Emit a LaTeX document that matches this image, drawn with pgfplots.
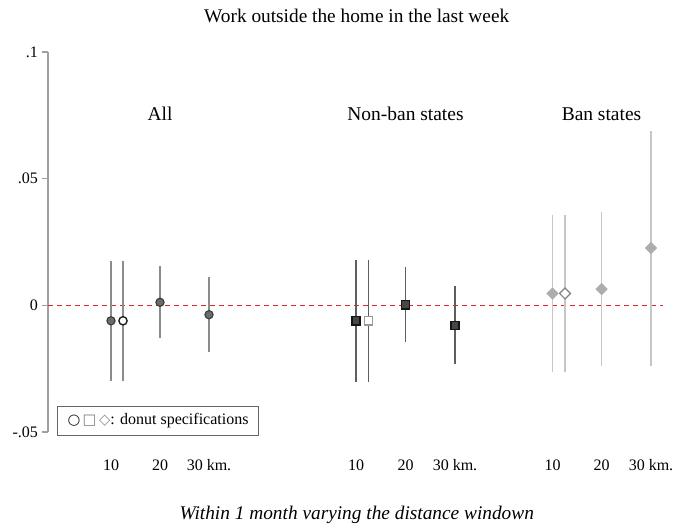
\documentclass[border=0pt]{standalone}
\usepackage{xcolor}
\usepackage{pgfplots}
\pgfplotsset{compat=1.18}
\usepackage{pgfplotstable}
\usepackage{fontspec}
\setmainfont{Liberation Serif}
\newfontfamily\symfont{DejaVu Sans}

\definecolor{allfill}{HTML}{6B6B6B}
\definecolor{alldraw}{HTML}{3A3A3A}
\definecolor{allci}{HTML}{8C8C8C}
\definecolor{nbfill}{HTML}{474747}
\definecolor{nbdraw}{HTML}{151515}
\definecolor{nbci}{HTML}{5E5E5E}
\definecolor{banfill}{HTML}{ADADAD}
\definecolor{banci}{HTML}{C6C6C6}
\definecolor{refred}{rgb}{0.91,0.14,0.16}
\definecolor{axisgray}{HTML}{A0A0A0}

% point estimates with 95% interval bounds; x is the horizontal position
\pgfplotstableread{
x y lo hi
111 -0.0061 -0.0300 0.0176
160 0.0012 -0.0128 0.0154
209 -0.0037 -0.0185 0.0110
}\allmain
\pgfplotstableread{
x y lo hi
123 -0.0061 -0.0300 0.0176
}\alldonut
\pgfplotstableread{
x y lo hi
356 -0.0061 -0.0301 0.0178
405.5 0.0002 -0.0146 0.0151
455 -0.0079 -0.0233 0.0075
}\nbmain
\pgfplotstableread{
x y lo hi
368.5 -0.0061 -0.0301 0.0178
}\nbdonut
\pgfplotstableread{
x y lo hi
552.5 0.0047 -0.0263 0.0355
601.5 0.0064 -0.0238 0.0367
651 0.0226 -0.0241 0.0690
}\banmain
\pgfplotstableread{
x y lo hi
565 0.0047 -0.0263 0.0355
}\bandonut

\pgfplotsset{
  ci/.style={error bars/.cd, y dir=both, y explicit, error mark=none,
    error bar style={draw=#1, line width=1.4pt}},
  /pgfplots/table/citab/.style={x=x, y=y,
    y error plus expr=\thisrow{hi}-\thisrow{y},
    y error minus expr=\thisrow{y}-\thisrow{lo}},
}

\begin{document}
\begin{tikzpicture}
\useasboundingbox (0,0) rectangle (504.75pt,396pt);
\begin{axis}[
  at={(36pt,72pt)}, anchor=south west,
  scale only axis, width=461.25pt, height=285pt,
  xmin=48, xmax=663, ymin=-0.05, ymax=0.1,
  clip=false,
  axis lines*=left,
  x axis line style={draw=none},
  y axis line style={draw=axisgray, line width=1pt},
  tick align=outside,
  major tick length=4.5pt,
  xtick style={draw=none},
  ytick style={draw=axisgray, line width=1pt},
  ytick={-0.05,0,0.05,0.1},
  yticklabels={-.05,0,.05,.1},
  xtick={111,160,209,356,405.5,455,552.5,601.5,651},
  xticklabels={10,20,30 km.,10,20,30 km.,10,20,30 km.},
  xticklabel style={anchor=base, yshift=-24pt},
  yticklabel style={anchor=east, xshift=0.5pt},
  tick label style={font=\fontsize{12}{14}\selectfont},
]
% reference line at zero
\draw[draw=refred, line width=1pt, dash pattern=on 3.75pt off 3pt]
  (axis cs:48,0) -- (axis cs:663,0);

% all states
\addplot[only marks, mark=*, mark size=3.1pt,
  mark options={fill=allfill, draw=alldraw, line width=0.8pt}, ci=allci]
  table[citab] {\allmain};
\addplot[only marks, mark=*, mark size=3.1pt,
  mark options={fill=white, draw=black!90, line width=1pt}, ci=allci]
  table[citab] {\alldonut};

% non-ban states
\addplot[only marks, mark=square*, mark size=3.1pt,
  mark options={fill=nbfill, draw=nbdraw, line width=1pt}, ci=nbci]
  table[citab] {\nbmain};
\addplot[only marks, mark=square*, mark size=3.1pt,
  mark options={fill=white, draw=black!40, line width=1pt}, ci=nbci]
  table[citab] {\nbdonut};

% ban states
\addplot[only marks, mark=square*, mark size=3pt,
  mark options={fill=banfill, draw=banfill, rotate=45, line width=0.5pt}, ci=banci]
  table[citab] {\banmain};
\addplot[only marks, mark=square*, mark size=2.9pt,
  mark options={fill=white, draw=black!50, rotate=45, line width=0.9pt}, ci=banci]
  table[citab] {\bandonut};

% group headings
\node[font=\fontsize{14.6}{16}\selectfont] at (axis cs:160,0.0755) {All};
\node[font=\fontsize{14.6}{16}\selectfont] at (axis cs:405.5,0.0755) {Non-ban states};
\node[font=\fontsize{14.6}{16}\selectfont] at (axis cs:601.5,0.0755) {Ban states};

% title and bottom caption
\node[font=\fontsize{14.5}{16}\selectfont] at (rel axis cs:0.502,1.0947)
  {Work outside the home in the last week};
\node[font=\fontsize{14.5}{16}\selectfont\itshape] at (rel axis cs:0.502,-0.218)
  {Within 1 month varying the distance windown};

% key for the hollow markers
\node[draw=black!60, line width=0.8pt, anchor=south west,
  minimum width=150.75pt, minimum height=21.75pt, inner sep=2pt,
  font=\fontsize{12}{14}\selectfont]
  at (rel axis cs:0.0146,-0.0105)
  {{\symfont\fontsize{11}{12}\selectfont\bfseries\color{black!90}○\,%
   \mdseries\color{black!50}□\,\color{black!45}◇}: donut specifications};
\end{axis}
\end{tikzpicture}
\end{document}
